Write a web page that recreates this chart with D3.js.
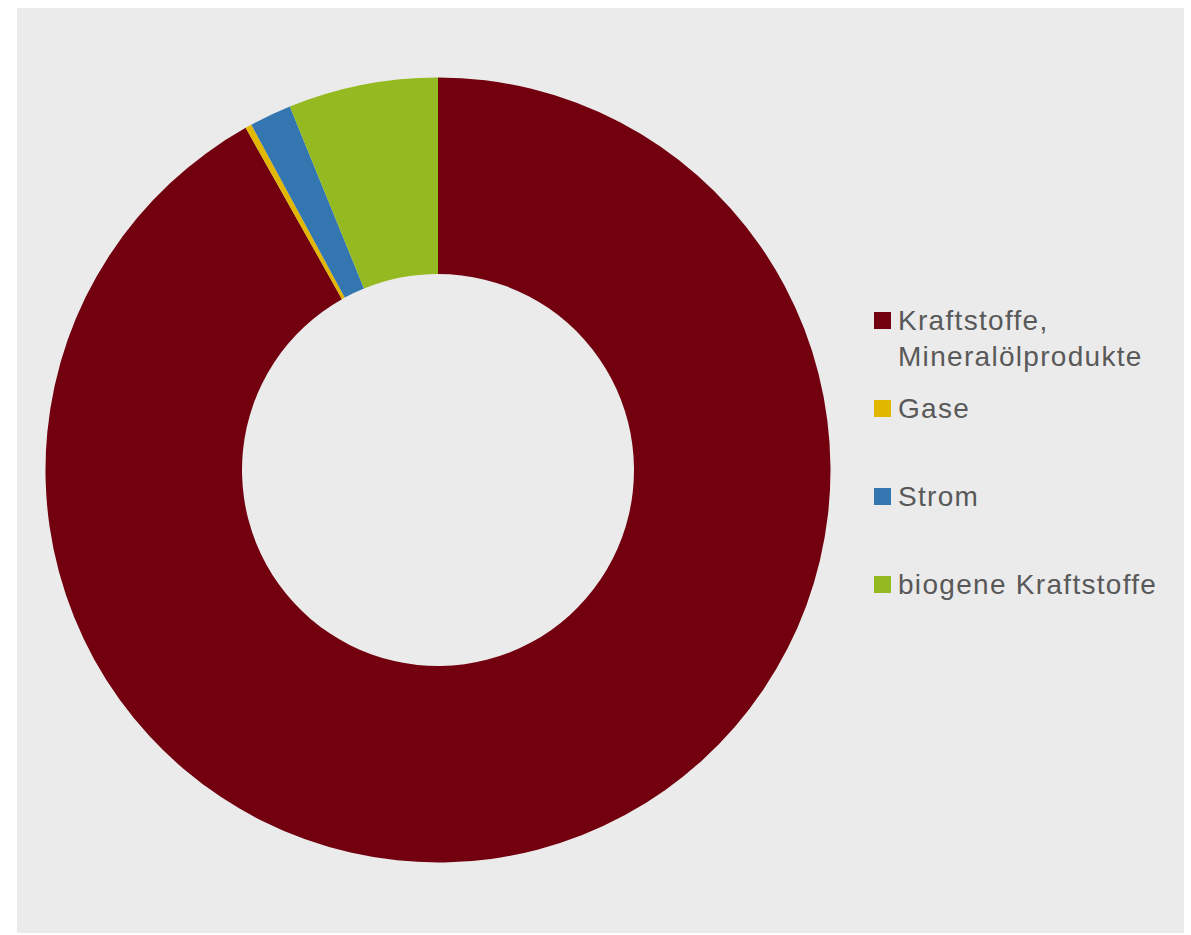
<!DOCTYPE html>
<html>
<head>
<meta charset="utf-8">
<script src="https://cdn.jsdelivr.net/npm/d3@7"></script>
<style>
  body { margin: 0; background: #fff; }
  svg { display: block; }
  .legend text { font-family: "Liberation Sans", Arial, sans-serif; fill: #595959; letter-spacing: 1.3px; }
</style>
</head>
<body>
<svg id="chart"></svg>
<script>
const width = 1191,
      height = 935;

// shares in percent
const categories = ["Kraftstoffe, Mineralölprodukte", "Gase", "Strom", "biogene Kraftstoffe"];
const legendLines = [["Kraftstoffe,", "Mineralölprodukte"], ["Gase"], ["Strom"], ["biogene Kraftstoffe"]];
const values = [91.85, 0.26, 1.73, 6.16];
const colors = ["#72000f", "#e2b700", "#3476b0", "#95b920"];

var data = categories.map((c, i) => ({ name: c, value: values[i], lines: legendLines[i] }));

var svg = d3.select("svg#chart")
    .attr("width", width)
    .attr("height", height);

svg.append("rect")
    .attr("x", 17)
    .attr("y", 8)
    .attr("width", 1167)
    .attr("height", 925)
    .attr("fill", "#ebebeb");

var color = d3.scaleOrdinal()
    .domain(categories)
    .range(colors);

var pie = d3.pie()
    .sort(null)
    .value(d => d.value);

var arc = d3.arc()
    .innerRadius(196)
    .outerRadius(392.5);

var g = svg.append("g")
    .attr("transform", "translate(438,470)");

g.selectAll("path")
    .data(pie(data))
    .enter()
  .append("path")
    .attr("d", arc)
    .attr("fill", d => color(d.data.name));

// legend
var legendY = d3.scaleBand()
    .domain(categories)
    .range([312, 312 + 88 * categories.length]);

var legend = svg.append("g")
    .attr("class", "legend")
    .selectAll("g")
    .data(data)
    .enter()
  .append("g")
    .attr("transform", d => "translate(874," + legendY(d.name) + ")");

legend.append("rect")
    .attr("width", 17)
    .attr("height", 17)
    .attr("fill", d => color(d.name));

legend.append("text")
    .attr("x", 24)
    .attr("y", 18)
    .style("font-size", "28px")
    .selectAll("tspan")
    .data(d => d.lines)
    .enter()
  .append("tspan")
    .attr("x", 24)
    .attr("dy", (d, i) => i === 0 ? 0 : 35.5)
    .text(d => d);
</script>
</body>
</html>
